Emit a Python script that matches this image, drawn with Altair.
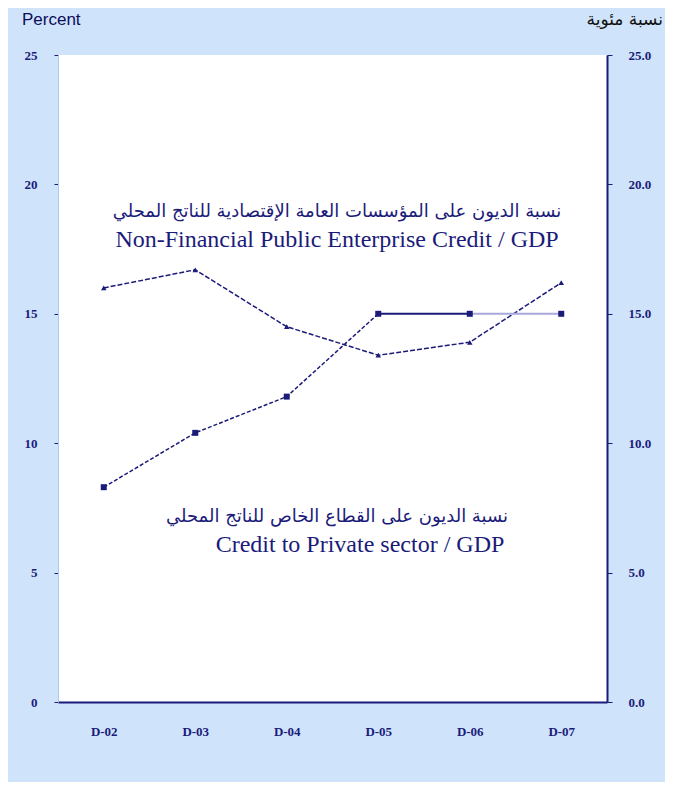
import altair as alt
import pandas as pd

periods = ["D-02", "D-03", "D-04", "D-05", "D-06", "D-07"]
nfpe_credit = [16.0, 16.7, 14.5, 13.4, 13.9, 16.2]
private_credit = [8.3, 10.4, 11.8, 15.0, 15.0, 15.0]
y_ticks = [0, 5, 10, 15, 20, 25]

NAVY = "#1b1b7a"
SERIF = "Liberation Serif"

df = pd.DataFrame({
    "period": periods,
    "idx": list(range(len(periods))),
    "nfpe": nfpe_credit,
    "private": private_credit,
})

xscale = alt.Scale(type="point", padding=0.5, domain=periods)
yscale = alt.Scale(domain=[0, 25], nice=False, zero=True)

x_axis = alt.Axis(title=None, labelFont=SERIF, labelFontWeight="bold", labelFontSize=13,
                  labelColor=NAVY, labelPadding=23, labelAngle=0, domainColor=NAVY,
                  domainWidth=2, ticks=False, grid=False)
left_axis = alt.Axis(title=None, orient="left", values=y_ticks, format="d", labelFont=SERIF,
                     labelFontWeight="bold", labelFontSize=13, labelColor=NAVY, labelPadding=17,
                     domainColor="#a9c9f0", domainWidth=1, tickColor=NAVY, tickSize=4, grid=False)
right_axis = alt.Axis(title=None, orient="right", values=y_ticks, format=".1f", labelFont=SERIF,
                      labelFontWeight="bold", labelFontSize=13, labelColor=NAVY, labelPadding=16,
                      domainColor=NAVY, domainWidth=2, tickColor=NAVY, tickSize=5, grid=False)

X = alt.X("period:O", scale=xscale, axis=x_axis, sort=periods)

base = alt.Chart(df)

nfpe_line = base.mark_line(color=NAVY, strokeWidth=1.5, strokeDash=[5, 2]).encode(
    x=X, y=alt.Y("nfpe:Q", scale=yscale, axis=left_axis),
)
nfpe_pts = base.mark_point(shape="triangle-up", filled=True, size=30, color=NAVY, opacity=1).encode(
    x=X, y=alt.Y("nfpe:Q", scale=yscale, axis=None),
)
priv_dashed = base.transform_filter("datum.idx <= 3").mark_line(
    color=NAVY, strokeWidth=1.5, strokeDash=[4, 2]).encode(
    x=X, y=alt.Y("private:Q", scale=yscale, axis=right_axis),
)
priv_solid = base.transform_filter("datum.idx >= 3 && datum.idx <= 4").mark_line(
    color=NAVY, strokeWidth=2).encode(
    x=X, y=alt.Y("private:Q", scale=yscale, axis=None),
)
priv_fade = base.transform_filter("datum.idx >= 4").mark_line(
    color="#a9a9dc", strokeWidth=2).encode(
    x=X, y=alt.Y("private:Q", scale=yscale, axis=None),
)
priv_pts = base.mark_point(shape="square", filled=True, size=36, color=NAVY, opacity=1).encode(
    x=X, y=alt.Y("private:Q", scale=yscale, axis=None),
)

def label(text, x, y, font, size, color=NAVY, align="center"):
    return alt.Chart(pd.DataFrame({"t": [text]})).mark_text(
        font=font, fontSize=size, color=color, align=align, baseline="middle"
    ).encode(text="t:N", x=alt.value(x), y=alt.value(y))

texts = [
    label("نسبة الديون على المؤسسات العامة الإقتصادية للناتج المحلي", 279, 157, "DejaVu Sans", 18),
    label("Non-Financial Public Enterprise Credit / GDP", 279, 185, SERIF, 24),
    label("نسبة الديون على القطاع الخاص للناتج المحلي", 279, 462, "DejaVu Sans", 18),
    label("Credit to Private sector / GDP", 302, 490, SERIF, 24),
    label("Percent", -36, -35, "Liberation Sans", 17, color="#0d0d5c", align="left"),
    label("نسبة مئوية", 605, -35, "DejaVu Sans", 17, color="#111111", align="right"),
]

chart = alt.layer(nfpe_line, priv_dashed, priv_solid, priv_fade, nfpe_pts, priv_pts, *texts).resolve_scale(
    y="independent"
).properties(
    width=549, height=647,
    autosize=alt.AutoSizeParams(type="none"),
    padding={"left": 50, "top": 47, "right": 58, "bottom": 80},
    background="#cfe3fb",
).configure_view(fill="white", stroke=None)

chart.save("out.html", embed_options={"renderer": "svg", "actions": False})
